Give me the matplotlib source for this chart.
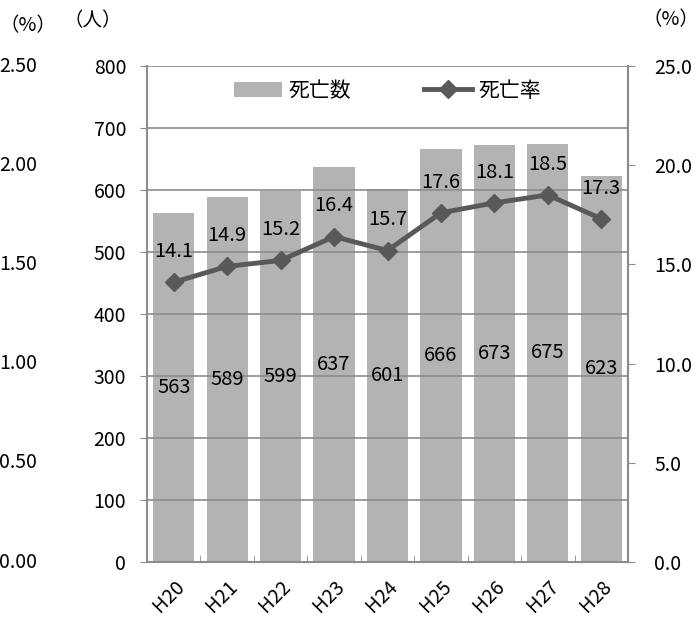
import matplotlib
matplotlib.use("Agg")
import matplotlib.pyplot as plt
import numpy as np

plt.rcParams['font.family'] = ['Noto Sans CJK JP', 'DejaVu Sans']

years = ["H20", "H21", "H22", "H23", "H24", "H25", "H26", "H27", "H28"]
deaths = [563, 589, 599, 637, 601, 666, 673, 675, 623]
rate = [14.1, 14.9, 15.2, 16.4, 15.7, 17.6, 18.1, 18.5, 17.3]
left_ticks = [0, 100, 200, 300, 400, 500, 600, 700, 800]
right_ticks = [0.0, 5.0, 10.0, 15.0, 20.0, 25.0]
far_ticks = [0.00, 0.50, 1.00, 1.50, 2.00, 2.50]

fig = plt.figure(figsize=(7.0, 6.17), dpi=100)
ax = fig.add_axes([147/700, 1-562/617, 481/700, 496/617])
x = np.arange(len(years))

bar_c = '#b3b3b3'
line_c = '#595959'
grid_c = '#8c8c8c'

ax.bar(x, deaths, width=0.77, color=bar_c, zorder=2, label='死亡数')
ax.set_xlim(-0.5, len(years)-0.5)
ax.set_ylim(0, 800)
ax.set_yticks(left_ticks)
ax.yaxis.grid(True, color=grid_c, linewidth=1.2, zorder=3)
ax.set_axisbelow(False)
ax.spines['top'].set_visible(False)
for s in ['left', 'bottom', 'right']:
    ax.spines[s].set_color(grid_c)
    ax.spines[s].set_linewidth(1.5)
ax.tick_params(axis='y', length=5, color=grid_c, labelsize=14, pad=10)
ax.set_xticks(x)
ax.set_xticklabels(years, rotation=45, fontsize=14, ha='right', rotation_mode='anchor')
ax.set_xticks(np.arange(-0.5, len(years)), minor=True)
ax.tick_params(axis='x', which='major', length=0, pad=10)
ax.tick_params(axis='x', which='minor', length=5, direction='in', color=grid_c)

for xi, d in zip(x, deaths):
    ax.text(xi, d/2, str(d), ha='center', va='center', fontsize=14.5, zorder=5)

ax2 = ax.twinx()
ax2.set_ylim(0, 25)
ax2.set_yticks(right_ticks)
ax2.set_yticklabels([f"{v:.1f}" for v in right_ticks])
ax2.plot(x, rate, color=line_c, linewidth=3.5, marker='D', markersize=9, zorder=4, label='死亡率')
for s in ['top', 'left', 'bottom']:
    ax2.spines[s].set_visible(False)
ax2.spines['right'].set_color(grid_c)
ax2.spines['right'].set_linewidth(1.5)
ax2.tick_params(axis='y', length=5, color=grid_c, labelsize=14, pad=14)
for xi, r in zip(x, rate):
    ax2.text(xi, r + 1.55, f"{r:.1f}", ha='center', va='center', fontsize=14.5, zorder=5)

# far left axis (partly cut off)
for v in far_ticks:
    yf = (1-562/617) + v/2.5*(496/617)
    fig.text(37/700, yf, f"{v:.2f}", ha='right', va='center', fontsize=14)

fig.text(28/700, 1-26/617, "（%）", ha='center', va='center', fontsize=14)
fig.text(93/700, 1-21/617, "（人）", ha='center', va='center', fontsize=14)
fig.text(699/700, 1-20/617, "（%）", ha='right', va='center', fontsize=14)

h1, l1 = ax.get_legend_handles_labels()
h2, l2 = ax2.get_legend_handles_labels()
ax2.legend(h1+h2, l1+l2, loc='upper center', bbox_to_anchor=(0.5, 1.01), ncol=2,
           frameon=False, fontsize=15, handlelength=2.3, columnspacing=3.5, handletextpad=0.3)

fig.savefig("out.png", dpi=100)
